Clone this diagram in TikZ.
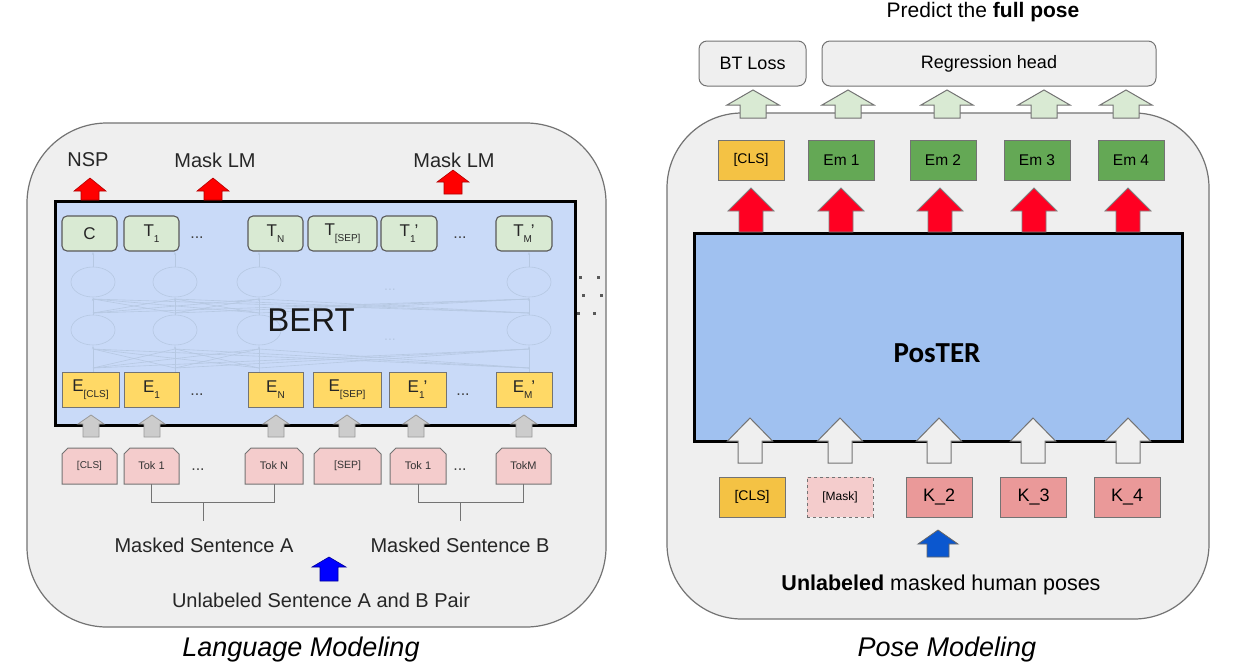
\documentclass[tikz,border=0pt]{standalone}
\usepackage{fontspec}
\setmainfont{Liberation Sans}
\newfontfamily\carlito{Carlito}
\usetikzlibrary{arrows.meta}
\definecolor{bgg}{HTML}{EFEFEF}
\definecolor{bertblue}{HTML}{C9DAF8}
\definecolor{posblue}{HTML}{A0C1F0}
\definecolor{tgreen}{HTML}{D9EAD3}
\definecolor{eyellow}{HTML}{FFD966}
\definecolor{tokpink}{HTML}{F4CCCC}
\definecolor{cyellow}{HTML}{F4C244}
\definecolor{emgreen}{HTML}{64A855}
\definecolor{kpink}{HTML}{EA9999}
\definecolor{netcol}{HTML}{B6C8E2}
\definecolor{redarr}{HTML}{FF0022}
\definecolor{bluearrR}{HTML}{0B57CF}
\newcommand{\fsz}[1]{\fontsize{#1}{#1}\selectfont}
\newcommand{\sbs}[1]{\raisebox{-0.32em}{\fsz{10}#1}}
\newcommand{\blockup}[7]{\draw[#1] ({#2-#7},#5) -- ({#2-#7},#4) -- ({#2-#6},#4) -- (#2,#3) -- ({#2+#6},#4) -- ({#2+#7},#4) -- ({#2+#7},#5) -- cycle;}
\newcommand{\tokbox}[5]{%
  \draw[tokst] ({#2-#3/2},484) -- ({#2-#3/2},454) -- ({#2-#3/2+6},448) -- ({#2+#3/2-6},448) -- ({#2+#3/2},454) -- ({#2+#3/2},484) -- cycle;
  \node[font=\fsz{#5}, text=black!80, minimum width=#3pt, minimum height=36pt, inner sep=0pt] (#1) at (#2,466) {#4};}
\tikzset{
  outerbox/.style={draw=black!55, line width=1.2pt, fill=bgg},
  bigbox/.style={draw=black, line width=3pt, inner sep=0pt},
  tbox/.style={draw=black!65, line width=1.1pt, fill=tgreen, rounded corners=5pt, minimum height=35pt, inner sep=0pt, text=black!85},
  ebox/.style={draw=black!55, line width=1pt, fill=eyellow, minimum height=35pt, inner sep=0pt, text=black!85},
  tokst/.style={draw=black!55, line width=1pt, fill=tokpink},
  rbox/.style={draw=black!55, line width=1pt, minimum width=66pt, minimum height=40pt, inner sep=0pt},
  headbox/.style={draw=black!55, line width=1pt, fill=bgg, rounded corners=8pt, minimum height=45pt, inner sep=0pt, font=\fsz{18}},
  net/.style={draw=netcol, line width=0.6pt},
  brk/.style={draw=black!55, line width=1pt},
  lbl/.style={font=\fsz{20}, text=black!85, inner sep=0pt},
  dotsl/.style={font=\fsz{16}, text=black!75, inner sep=0pt},
  redL/.style={fill=red, draw=red!70!black, line width=0.6pt},
  grayL/.style={fill=black!20, draw=black!40, line width=0.8pt},
  blueL/.style={fill=blue, draw=blue!60!black, line width=0.6pt},
  greenR/.style={fill=tgreen, draw=black!55, line width=1pt},
  redR/.style={fill=redarr, draw=black!50, line width=0.8pt},
  whiteR/.style={fill=bgg, draw=black!55, line width=1pt},
  blueR/.style={fill=bluearrR, draw=black!60, line width=0.8pt}
}
\begin{document}
\begin{tikzpicture}[x=1pt,y=-1pt]
\useasboundingbox[fill=white] (0,0) rectangle (1238,670);

% ================= LEFT =================
\draw[outerbox, rounded corners=80pt] (27,123) rectangle (606,627);
\node[bigbox, fill=bertblue, minimum width=520pt, minimum height=224pt] (bert) at (315,313) {};

% faint network
\foreach \a in {93,175,259,529}{
  \foreach \b in {93,175,259,529}{
    \draw[net] (\a,368) -- (\b,349);
    \draw[net] (\a,313) -- (\b,299);
  }
  \draw[net, fill=bertblue] (\a,282) ellipse [x radius=22, y radius=15];
  \draw[net, fill=bertblue] (\a,330) ellipse [x radius=22, y radius=15];
  \draw[net, -{Stealth[length=3pt]}] (\a,372) -- (\a,346);
  \draw[net, -{Stealth[length=3pt]}] (\a,315) -- (\a,298);
  \draw[net, -{Stealth[length=3pt]}] (\a,267) -- (\a,252);
}
\node[font=\fsz{14}, text=netcol] (nd1) at (390,290) {...};
\node[font=\fsz{14}, text=netcol] (nd2) at (390,340) {...};
\node[font=\fsz{33}, text=black!90] (berttxt) at (311,320) {BERT};

% T boxes
\node[tbox, minimum width=55pt] (c) at (89.5,233.5) {\fsz{17}C};
\node[tbox, minimum width=55pt] (t1) at (151.5,233.5) {\fsz{17}T\sbs{1}};
\node[dotsl] (td1) at (197,238) {...};
\node[tbox, minimum width=55pt] (tn) at (275.5,233.5) {\fsz{17}T\sbs{N}};
\node[tbox, minimum width=69pt] (tsep) at (342.5,233.5) {\fsz{17}T\sbs{[SEP]}};
\node[tbox, minimum width=56pt] (t1b) at (409,233.5) {\fsz{17}T\sbs{1}\hspace{-1pt}'};
\node[dotsl] (td2) at (460,238) {...};
\node[tbox, minimum width=56pt] (tm) at (524,233.5) {\fsz{17}T\sbs{M}\hspace{-1pt}'};

% E boxes
\node[ebox, minimum width=57pt] (ecls) at (90.5,389.5) {\fsz{17}E\sbs{[CLS]}};
\node[ebox, minimum width=55pt] (e1) at (151.5,389.5) {\fsz{17}E\sbs{1}};
\node[dotsl] (ed1) at (197,395) {...};
\node[ebox, minimum width=55pt] (en) at (275.5,389.5) {\fsz{17}E\sbs{N}};
\node[ebox, minimum width=68pt] (esep) at (347,389.5) {\fsz{17}E\sbs{[SEP]}};
\node[ebox, minimum width=57pt] (e1b) at (417.5,389.5) {\fsz{17}E\sbs{1}\hspace{-1pt}'};
\node[dotsl] (ed2) at (463,395) {...};
\node[ebox, minimum width=56pt] (em) at (524,389.5) {\fsz{17}E\sbs{M}\hspace{-1pt}'};

% red arrows + labels
\blockup{redL}{90}{178}{191}{200}{16}{9}
\blockup{redL}{213}{178}{191}{200}{16}{9}
\blockup{redL}{453}{170}{182}{194}{16}{9}
\node[lbl] (nsp) at (88,160) {NSP};
\node[lbl] (mlm1) at (215,160) {Mask LM};
\node[lbl] (mlm2) at (454,160) {Mask LM};

% gray arrows
\foreach \cx in {91,152,276,347,416,524}{\blockup{grayL}{\cx}{415}{424}{437}{13}{8}}

% tokens
\tokbox{tcls}{89.5}{55}{[CLS]}{10}
\tokbox{ta1}{151.5}{55}{Tok 1}{11}
\node[dotsl] (tkd1) at (198,470) {...};
\tokbox{tan}{274}{58}{Tok N}{11}
\tokbox{tsepk}{347.5}{67}{[SEP]}{10.5}
\tokbox{tb1}{418}{56}{Tok 1}{11}
\node[dotsl] (tkd2) at (460,470) {...};
\tokbox{tbm}{523.5}{55}{TokM}{11}

% brackets
\coordinate (brA) at (203,502);
\coordinate (brAs) at (203,521);
\coordinate (brB) at (460,502);
\coordinate (brBs) at (460,521);
\draw[brk] (ta1.south) |- (brA) -| (tan.south);
\draw[brk] (brA) -- (brAs);
\draw[brk] (tb1.south) |- (brB) -| (tbm.south);
\draw[brk] (brB) -- (brBs);

\node[lbl] (msa) at (204,545) {Masked Sentence A};
\node[lbl] (msb) at (460,545) {Masked Sentence B};
\blockup{blueL}{329}{557}{567}{581}{17}{9}
\node[lbl] (unl) at (321,600) {Unlabeled Sentence A and B Pair};
\node[font=\fsz{27}\itshape, inner sep=0pt] (lm) at (301,650) {Language Modeling};

% small dots at right
\foreach \p in {(580,277),(598,277),(583,295),(601,295),(578,313),(594,313)}{
  \fill[black!65] \p ++(-1.5,-1.5) rectangle ++(3,3);
}

% ================= RIGHT =================
\node[font=\fsz{21}, inner sep=0pt] (pred) at (983,12) {Predict the \textbf{full pose}};
\node[headbox, minimum width=107pt] (bt) at (752.5,63.5) {BT Loss};
\node[headbox, minimum width=334pt] (reg) at (989,63.5) {Regression head};

\draw[outerbox, rounded corners=75pt] (667,113) rectangle (1209,619);
\foreach \cx in {753,848,947,1044,1126}{\blockup{greenR}{\cx}{90}{105}{118}{26}{13}}

\node[rbox, fill=cyellow, font=\fsz{14}] (ccls) at (751,160) {[CLS]};
\node[rbox, fill=emgreen, font=\fsz{15.5}] (em1) at (841.5,160) {Em 1};
\node[rbox, fill=emgreen, font=\fsz{15.5}] (em2) at (943,160) {Em 2};
\node[rbox, fill=emgreen, font=\fsz{15.5}] (em3) at (1037,160) {Em 3};
\node[rbox, fill=emgreen, font=\fsz{15.5}] (em4) at (1131,160) {Em 4};

\node[bigbox, fill=posblue, minimum width=488pt, minimum height=208pt] (poster) at (938,337) {};
\node[font=\carlito\bfseries\fsz{29}, inner sep=0pt] (postxt) at (937,353) {PosTER};

\foreach \cx in {751,841,940,1034,1128}{\blockup{redR}{\cx}{188}{211}{232}{23}{12}}
\foreach \cx in {750,840,939,1033,1128}{\blockup{whiteR}{\cx}{418}{441}{463}{22.5}{12}}

\node[rbox, fill=cyellow, font=\fsz{14}] (kcls) at (752,497) {[CLS]};
\node[rbox, fill=tokpink, dashed, font=\fsz{12}] (kmask) at (840,497) {[Mask]};
\node[rbox, fill=kpink, font=\fsz{18}] (k2) at (939,497) {K\_2};
\node[rbox, fill=kpink, font=\fsz{18}] (k3) at (1033.5,497) {K\_3};
\node[rbox, fill=kpink, font=\fsz{18}] (k4) at (1127,497) {K\_4};

\blockup{blueR}{938}{530}{544}{557}{20}{11}
\node[font=\fsz{21.5}, inner sep=0pt] (unlr) at (941,585) {\textbf{Unlabeled} masked human poses};
\node[font=\fsz{27}\itshape, inner sep=0pt] (pm) at (947,650) {Pose Modeling};
\end{tikzpicture}
\end{document}
